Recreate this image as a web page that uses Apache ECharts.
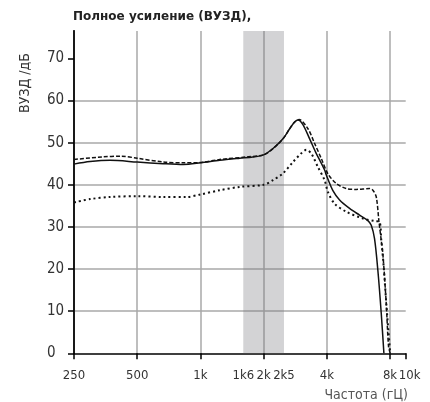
<!DOCTYPE html>
<html>
<head>
<meta charset="utf-8">
<script src="https://cdn.jsdelivr.net/npm/echarts@6/dist/echarts.min.js"></script>
<style>
html,body{margin:0;padding:0;background:#fff;}
#chart{width:430px;height:402px;}
</style>
</head>
<body>
<div id="chart"></div>
<script>
// частоты в Гц, значения в дБ
var baseFreq = 250;
var maxFreq = 9500;
var xTickFreqs = [250, 500, 1000, 1600, 2000, 2500, 4000, 8000];
var xTickLabels = ['250', '500', '1k', '1k6', '2k', '2k5', '4k', '8k'];
var xEndLabel = '10k';
var yTicks = [0, 10, 20, 30, 40, 50, 60, 70];
var bandFreqs = [1600, 2500];

var solidFreq = [250, 298, 371, 500, 665, 828, 1000, 1236, 1539, 1776, 2000, 2217, 2473, 2661, 2811, 2915, 3078, 3313, 3565, 3696, 3904, 3978, 4276, 4602, 5133, 5727, 6272, 6512, 6750, 7000, 7265, 7480];
var solidVal = [44.9, 45.5, 45.8, 45.4, 45.0, 44.8, 45.2, 45.8, 46.3, 46.6, 47.1, 48.6, 50.9, 53.3, 54.9, 55.4, 54.3, 50.9, 47.4, 45.9, 43.5, 42.3, 38.6, 36.4, 34.4, 32.8, 31.5, 30.4, 27.2, 19.7, 9.5, 0];

var dashFreq = [250, 340, 420, 500, 665, 828, 1000, 1236, 1657, 2000, 2217, 2473, 2661, 2811, 2950, 3252, 3500, 3766, 4048, 4438, 4953, 5525, 6390, 6628, 6880, 7075, 7265, 7393, 7675, 7870, 8017];
var dashVal = [46.0, 46.6, 46.8, 46.3, 45.4, 45.2, 45.3, 46.0, 46.6, 47.1, 48.6, 50.9, 53.3, 54.9, 55.5, 53.3, 49.8, 46.2, 42.6, 40.3, 39.1, 38.9, 39.1, 38.7, 37.1, 31.6, 26.8, 23.7, 11.8, 1.6, 0];

var dotFreq = [250, 298, 371, 500, 665, 858, 1000, 1236, 1539, 2000, 2217, 2473, 2759, 3026, 3196, 3375, 3628, 3904, 4048, 4357, 4953, 5940, 6750, 7130, 7265, 7450, 7700, 8017];
var dotVal = [35.8, 36.6, 37.1, 37.3, 37.1, 37.1, 37.7, 38.7, 39.5, 40.0, 41.1, 42.7, 45.4, 47.5, 48.3, 47.4, 44.2, 41.1, 38.3, 35.5, 33.6, 32.0, 31.4, 31.2, 27.0, 21.0, 11.0, 0];

// октавы от 250 Гц
function oct(f){ return Math.log2(f / baseFreq); }
function pairs(fs, vs){
    var out = [];
    for (var i = 0; i < fs.length; i++) out.push([oct(fs[i]), vs[i]]);
    return out;
}
var xTickVals = xTickFreqs.map(oct);

var narrow = "'Liberation Sans Narrow','DejaVu Sans Condensed',sans-serif";
var gridColor = '#a8a8a8';
var xLabelStyle = {margin: 16, color: '#333', fontSize: 13, fontFamily: narrow};

var chart = echarts.init(document.getElementById('chart'));
var option = {
    animation: false,
    title: {
        text: 'Полное усиление (ВУЗД),',
        left: 73,
        top: 11,
        padding: 0,
        textStyle: {
            color: '#222',
            fontSize: 12,
            fontWeight: 'bold',
            fontFamily: "'DejaVu Sans',sans-serif"
        }
    },
    grid: {
        left: 74,
        right: 24.3,
        top: 31,
        bottom: 48.7,
        outerBoundsMode: 'none'
    },
    xAxis: [
        {
            type: 'value',
            min: 0,
            max: oct(maxFreq),
            interval: 1,
            axisLine: {lineStyle: {color: '#000', width: 1.5}},
            axisTick: {length: 6, lineStyle: {color: '#000', width: 1.5}},
            axisLabel: echarts.util.extend({
                customValues: xTickVals,
                formatter: function(v){
                    for (var i = 0; i < xTickVals.length; i++) {
                        if (Math.abs(xTickVals[i] - v) < 1e-6) return xTickLabels[i];
                    }
                    return '';
                }
            }, xLabelStyle),
            splitLine: {show: true, showMinLine: false, showMaxLine: false, lineStyle: {color: gridColor, width: 1.5}}
        },
        {
            // подпись 10k на правом краю
            type: 'value',
            position: 'bottom',
            min: 0,
            max: oct(maxFreq),
            axisLine: {show: false},
            axisTick: {show: false},
            axisLabel: echarts.util.extend({
                customValues: [oct(maxFreq)],
                showMaxLabel: true,
                padding: [0, 0, 0, 8],
                formatter: function(){ return xEndLabel; }
            }, xLabelStyle),
            splitLine: {show: false}
        }
    ],
    yAxis: [
        {
            type: 'value',
            min: 0,
            max: 76.5,
            interval: 10,
            axisLine: {show: true, lineStyle: {color: '#000', width: 2}},
            axisTick: {show: true, customValues: yTicks, length: 6, lineStyle: {color: '#000', width: 1.5}},
            axisLabel: {
                customValues: yTicks,
                align: 'left',
                margin: 27,
                color: '#333',
                fontSize: 15,
                fontFamily: narrow
            },
            splitLine: {show: true, showMinLine: false, showMaxLine: false, lineStyle: {color: gridColor, width: 1.5}}
        },
        {
            type: 'value',
            position: 'right',
            min: 0,
            max: 76.5,
            axisLine: {show: true, lineStyle: {color: '#222', width: 1.5}},
            axisTick: {show: false},
            axisLabel: {show: false},
            splitLine: {show: false}
        }
    ],
    graphic: [
        {
            type: 'text',
            x: 25,
            y: 83,
            rotation: Math.PI / 2,
            style: {
                text: 'ВУЗД /дБ',
                fill: '#333',
                font: "14px " + narrow,
                align: 'center',
                verticalAlign: 'middle'
            }
        },
        {
            type: 'text',
            x: 408,
            y: 395,
            style: {
                text: 'Частота (гЦ)',
                fill: '#555',
                font: "14px " + narrow,
                align: 'right',
                verticalAlign: 'middle'
            }
        }
    ],
    series: [
        {
            name: 'solid',
            type: 'line',
            data: pairs(solidFreq, solidVal),
            showSymbol: false,
            smooth: 0.3,
            lineStyle: {color: '#111', width: 1.5},
            markArea: {
                silent: true,
                itemStyle: {color: 'rgba(120,120,128,0.33)'},
                data: [[{xAxis: oct(bandFreqs[0])}, {xAxis: oct(bandFreqs[1])}]]
            }
        },
        {
            name: 'dashed',
            type: 'line',
            data: pairs(dashFreq, dashVal),
            showSymbol: false,
            smooth: 0.3,
            lineStyle: {color: '#111', width: 1.5, type: [4, 2]}
        },
        {
            name: 'dotted',
            type: 'line',
            data: pairs(dotFreq, dotVal),
            showSymbol: false,
            smooth: 0.3,
            lineStyle: {color: '#111', width: 2, type: [2, 3]}
        }
    ]
};
chart.setOption(option);
</script>
</body>
</html>
